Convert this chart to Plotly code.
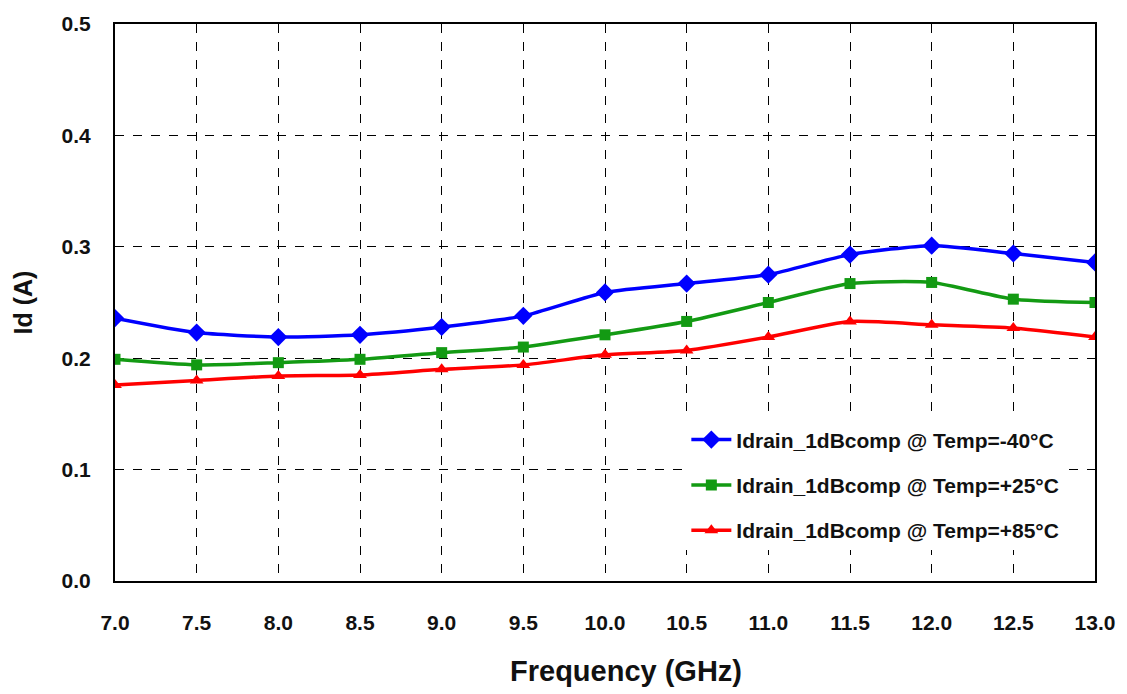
import plotly.graph_objects as go

freq = [7.0, 7.5, 8.0, 8.5, 9.0, 9.5, 10.0, 10.5, 11.0, 11.5, 12.0, 12.5, 13.0]
id_m40 = [0.236, 0.223, 0.219, 0.221, 0.228, 0.238, 0.259, 0.267, 0.275, 0.293, 0.301, 0.294, 0.286]
id_p25 = [0.199, 0.194, 0.196, 0.199, 0.205, 0.210, 0.221, 0.233, 0.250, 0.267, 0.268, 0.253, 0.250]
id_p85 = [0.176, 0.180, 0.184, 0.185, 0.190, 0.194, 0.203, 0.207, 0.219, 0.233, 0.230, 0.227, 0.219]
names = ["Idrain_1dBcomp @ Temp=-40°C", "Idrain_1dBcomp @ Temp=+25°C", "Idrain_1dBcomp @ Temp=+85°C"]
x_ticks = [7.0, 7.5, 8.0, 8.5, 9.0, 9.5, 10.0, 10.5, 11.0, 11.5, 12.0, 12.5, 13.0]
y_ticks = [0.0, 0.1, 0.2, 0.3, 0.4, 0.5]
x_title = "Frequency (GHz)"
y_title = "Id (A)"

series = [
    (id_m40, names[0], "#0000ff", "diamond", 14),
    (id_p25, names[1], "#139a13", "square", 11),
    (id_p85, names[2], "#ff0000", "triangle-up", 12),
]

fig = go.Figure()
for i, (vals, nm, col, sym, sz) in enumerate(series):
    fig.add_trace(go.Scatter(
        x=freq, y=vals, name=nm, mode="lines+markers",
        line=dict(color=col, width=3.5, shape="spline", smoothing=0.6),
        marker=dict(symbol=sym, size=sz, color=col),
        legendgroup=f"g{i}",
    ))

fig.update_layout(
    width=1127, height=694,
    margin=dict(l=115, r=30, t=20, b=113),
    paper_bgcolor="white", plot_bgcolor="white",
    font=dict(family="Liberation Sans, Arial, sans-serif", color="#111"),
    xaxis=dict(
        range=[7.0, 13.0], tickvals=x_ticks, ticktext=[f"{v:.1f}" for v in x_ticks],
        tickfont=dict(family="Liberation Sans Narrow, Liberation Sans, Arial", size=21, color="#111", weight="bold"),
        ticklabelstandoff=22,
        showgrid=True, gridcolor="black", griddash="dash", gridwidth=1,
        showline=True, linecolor="black", linewidth=2, mirror=True,
        zeroline=False,
    ),
    yaxis=dict(
        range=[0.0, 0.5], tickvals=y_ticks, ticktext=[f"{v:.1f}" for v in y_ticks],
        tickfont=dict(family="Liberation Sans, Arial", size=21, color="#111", weight="bold"),
        ticklabelstandoff=18,
        showgrid=True, gridcolor="black", griddash="dash", gridwidth=1,
        showline=True, linecolor="black", linewidth=2, mirror=True,
        zeroline=False,
        title=dict(text=y_title, font=dict(family="Liberation Sans, Arial", size=25, color="#111", weight="bold"), standoff=22),
    ),
    legend=dict(
        x=0.583, y=0.29, xanchor="left", yanchor="top",
        bgcolor="white", borderwidth=0,
        font=dict(family="Liberation Sans, Arial", size=21, color="#111", weight="bold"),
        tracegroupgap=15, itemwidth=40,
    ),
    showlegend=True,
)
fig.add_annotation(
    text=x_title, xref="paper", yref="paper", x=0.521, y=-0.162,
    xanchor="center", yanchor="middle", showarrow=False,
    font=dict(family="Liberation Sans Narrow, Liberation Sans, Arial", size=29, color="#111", weight="bold"),
)

fig.write_html("out.html")
